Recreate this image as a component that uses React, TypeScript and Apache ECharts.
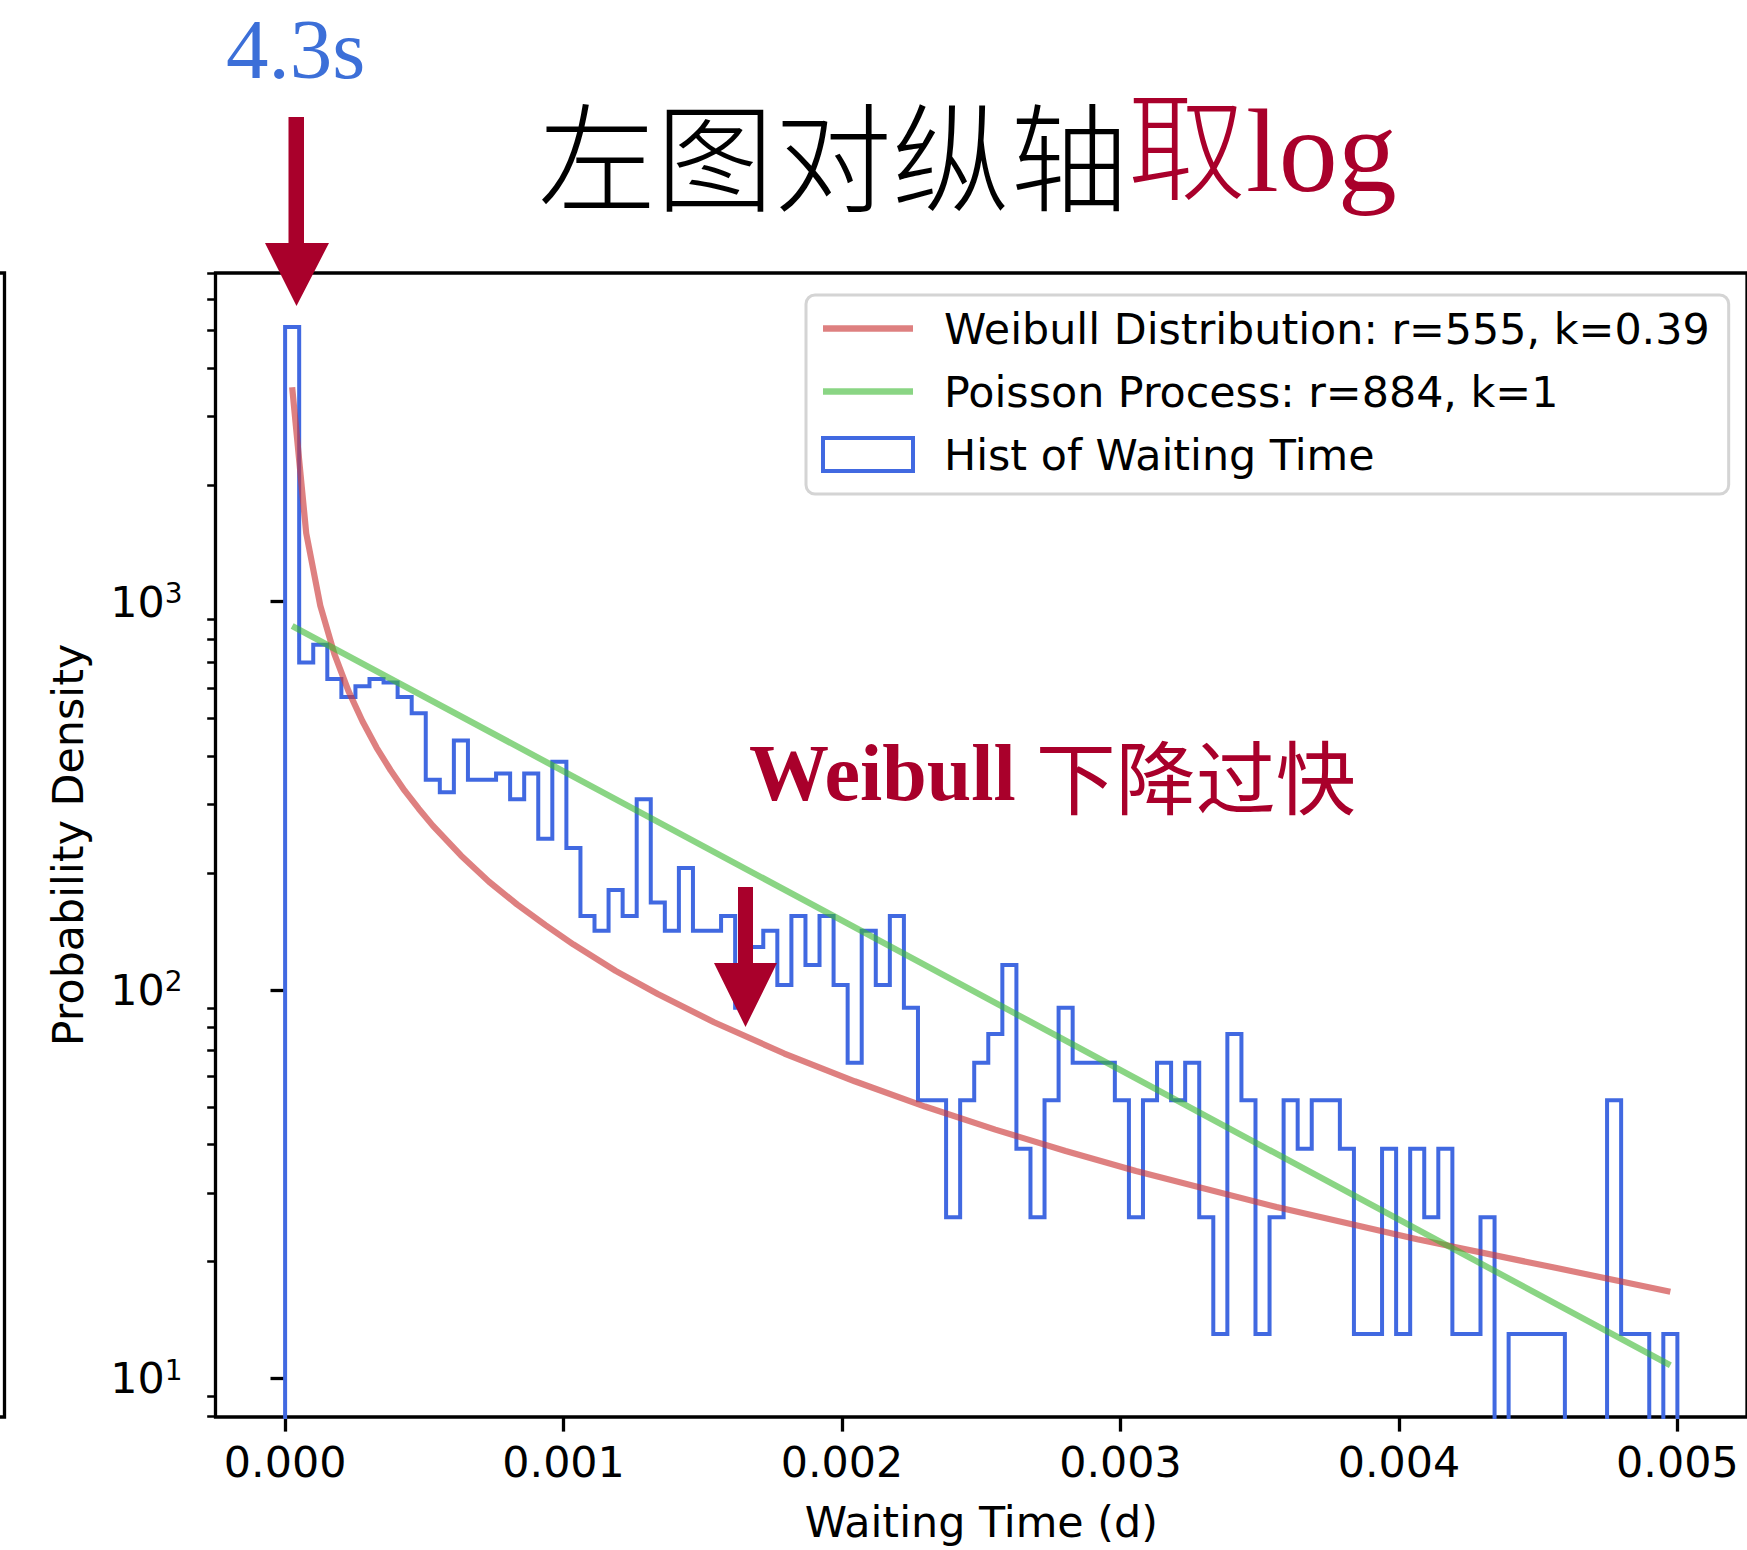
import React, { useEffect, useRef } from "react";
import * as echarts from "echarts";

// ---------- data ----------
const histName = "Hist of Waiting Time";
const weibullName = "Weibull Distribution: r=555, k=0.39";
const poissonName = "Poisson Process: r=884, k=1";

const histRange = [0, 0.005];
const histBinCount = 99;
// density per bin (0 = empty bin)
const histDensity = [
  5096, 697, 774, 632, 568, 606, 632, 619, 568, 516,
  348, 323, 439, 348, 348, 361, 310, 361, 245, 387,
  232, 155, 142, 181, 155, 310, 168, 142, 206, 142,
  142, 155, 90, 129, 142, 103, 155, 116, 155, 103,
  65, 142, 103, 155, 90, 52, 52, 26, 52, 65,
  77, 116, 39, 26, 52, 90, 65, 65, 65, 52,
  26, 52, 65, 52, 65, 26, 13, 77, 52, 13,
  26, 52, 39, 52, 52, 39, 13, 13, 39, 13,
  39, 26, 39, 13, 13, 26, 0, 13, 13, 13,
  13, 0, 0, 0, 52, 13, 13, 0, 13,
];

const weibullX = [
  0.0000253, 0.0000758, 0.0001263, 0.0001768, 0.0002273, 0.0002778, 0.0003283,
  0.0003788, 0.0004293, 0.0004798, 0.0005303, 0.0006313, 0.0007323, 0.0008333,
  0.0009343, 0.0010354, 0.0011869, 0.0013384, 0.0015404, 0.0017929, 0.0020455,
  0.0022980, 0.0025505, 0.0028030, 0.0030556, 0.0035606, 0.0040657, 0.0045707,
  0.0049747,
];
const weibullY = [
  3566, 1500, 977, 734, 589, 492, 421,
  368, 326, 293, 265, 222, 190, 166,
  147, 131, 112, 97.6, 82.6, 68.6, 58.2,
  50.1, 43.7, 38.5, 34.2, 27.6, 22.8, 19.2,
  16.7,
];

const poissonX = [0.0000253, 0.002, 0.0049747];
const poissonY = [866, 151, 10.8];

const xTickValues = [0, 0.001, 0.002, 0.003, 0.004, 0.005];
const yMajorTicks = [10, 100, 1000];
const yMinorTicks = [
  8, 9, 20, 30, 40, 50, 60, 70, 80, 90,
  200, 300, 400, 500, 600, 700, 800, 900,
  2000, 3000, 4000, 5000, 6000, 7000,
];
const xLimits = [-0.00025, 0.00525];
const yLimits = [7.95, 7020];

// ---------- styling ----------
const FONT = "DejaVu Sans";
const FS = 42.8;
const SERIF = "Liberation Serif";
const CJK = "Noto Sans CJK SC";
const CRIMSON = "#A9002B";
const HIST_BLUE = "#4169E1";
const RED_LINE = "rgba(205,60,60,0.65)";
const GREEN_LINE = "rgba(60,185,50,0.6)";
const LINE_ICON = "path://M0,0L90,0L90,6.5L0,6.5Z";

export default function App() {
  const ref = useRef<HTMLDivElement>(null);

  useEffect(() => {
    if (!ref.current) return;
    const chart = echarts.init(ref.current, undefined, { renderer: "svg" });

    const binWidth = (histRange[1] - histRange[0]) / histBinCount;
    const floor = 1; // below the axis minimum: outline runs down to the frame
    const stepPoints: number[][] = [[histRange[0], floor]];
    histDensity.forEach((d, i) => {
      const y = d > 0 ? d : floor;
      stepPoints.push([histRange[0] + i * binWidth, y]);
      stepPoints.push([histRange[0] + (i + 1) * binWidth, y]);
    });
    stepPoints.push([histRange[1], floor]);

    const weibullData = weibullX.map((x, i) => [x, weibullY[i]]);
    const poissonData = poissonX.map((x, i) => [x, poissonY[i]]);

    const option: any = {
      animation: false,
      backgroundColor: "#ffffff",
      title: {
        text: "{a|左图对纵轴}{b|取log}",
        left: 538,
        top: 92,
        padding: 0,
        textStyle: {
          rich: {
            a: { fontSize: 118, fontFamily: `"${CJK}"`, color: "#000", fontWeight: 300 },
            b: { fontSize: 118, fontFamily: `"${SERIF}", "${CJK}"`, color: CRIMSON, fontWeight: 300 },
          },
        },
      },
      legend: {
        orient: "vertical",
        left: 806,
        top: 295,
        itemWidth: 90,
        itemHeight: 33,
        itemGap: 20,
        padding: [12, 19, 18, 15],
        backgroundColor: "rgba(255,255,255,0.8)",
        borderColor: "#d4d4d4",
        borderWidth: 3,
        borderRadius: 9,
        selectedMode: false,
        textStyle: { fontSize: FS, fontFamily: FONT, color: "#000", padding: [0, 0, 0, 26] },
        data: [
          { name: weibullName, icon: LINE_ICON, itemStyle: { color: RED_LINE, borderWidth: 0 } },
          { name: poissonName, icon: LINE_ICON, itemStyle: { color: GREEN_LINE, borderWidth: 0 } },
          {
            name: histName,
            icon: "rect",
            itemStyle: { color: "#ffffff", borderColor: HIST_BLUE, borderWidth: 4 },
          },
        ],
      },
      grid: {
        left: 215.5,
        top: 273,
        right: -2,
        bottom: 133,
        show: true,
        borderColor: "#000",
        borderWidth: 3.3,
        backgroundColor: "transparent",
      },
      xAxis: {
        type: "value",
        min: xLimits[0],
        max: xLimits[1],
        name: "Waiting Time (d)",
        nameLocation: "middle",
        nameGap: 83,
        nameTextStyle: { fontSize: FS, fontFamily: FONT, color: "#000" },
        axisLine: { show: false },
        axisTick: {
          show: true,
          length: 14.6,
          customValues: xTickValues,
          lineStyle: { color: "#000", width: 3.3 },
        },
        axisLabel: {
          show: true,
          customValues: xTickValues,
          margin: 23,
          fontSize: FS,
          fontFamily: FONT,
          color: "#000",
          formatter: (v: number) => v.toFixed(3),
        },
        splitLine: { show: false },
      },
      yAxis: [
        {
          type: "log",
          logBase: 10,
          position: "left",
          min: yLimits[0],
          max: yLimits[1],
          name: "Probability Density",
          nameLocation: "middle",
          nameGap: 126,
          nameTextStyle: { fontSize: FS, fontFamily: FONT, color: "#000" },
          axisLine: { show: false },
          axisTick: {
            show: true,
            length: 14.6,
            customValues: yMajorTicks,
            lineStyle: { color: "#000", width: 3.3 },
          },
          axisLabel: {
            show: true,
            customValues: yMajorTicks,
            margin: 33,
            formatter: (v: number) => `{b|10}{s|${Math.round(Math.log10(v))}}`,
            rich: {
              b: { fontSize: FS, fontFamily: FONT, color: "#000", lineHeight: 44, verticalAlign: "middle" },
              s: { fontSize: 28, fontFamily: FONT, color: "#000", lineHeight: 24, verticalAlign: "top" },
            },
          },
          splitLine: { show: false },
        },
        {
          type: "log",
          logBase: 10,
          position: "left",
          min: yLimits[0],
          max: yLimits[1],
          axisLine: { show: false },
          axisLabel: { show: false },
          splitLine: { show: false },
          axisTick: {
            show: true,
            length: 8.3,
            customValues: yMinorTicks,
            lineStyle: { color: "#000", width: 2.5 },
          },
        },
      ],
      series: [
        {
          name: weibullName,
          type: "line",
          data: weibullData,
          yAxisIndex: 0,
          symbol: "none",
          z: 4,
          lineStyle: { color: RED_LINE, width: 6.2 },
          itemStyle: { color: RED_LINE },
        },
        {
          name: poissonName,
          type: "line",
          data: poissonData,
          yAxisIndex: 0,
          symbol: "none",
          z: 4,
          lineStyle: { color: GREEN_LINE, width: 6.2 },
          itemStyle: { color: GREEN_LINE },
        },
        {
          name: histName,
          type: "line",
          data: stepPoints,
          yAxisIndex: 0,
          symbol: "none",
          z: 3,
          clip: true,
          lineStyle: { color: HIST_BLUE, width: 4, join: "miter", cap: "butt" },
          itemStyle: { color: HIST_BLUE },
        },
      ],
      graphic: [
        {
          type: "polyline",
          shape: { points: [[0, 273], [4.5, 273], [4.5, 1417], [0, 1417]] },
          style: { stroke: "#000", lineWidth: 3.3, fill: null },
          silent: true,
        },
        {
          type: "text",
          x: 226,
          y: 49,
          style: {
            text: "4.3s",
            fontSize: 85,
            fontFamily: SERIF,
            fill: "#3C6FD8",
            verticalAlign: "middle",
            align: "left",
          },
        },
        {
          type: "polygon",
          shape: {
            points: [[288.5, 117], [304, 117], [304, 243], [329, 243], [296.5, 306], [265, 243], [288.5, 243]],
          },
          style: { fill: CRIMSON },
          z: 10,
        },
        {
          type: "polygon",
          shape: {
            points: [[738, 887], [753, 887], [753, 963], [777, 963], [745.5, 1027], [714, 963], [738, 963]],
          },
          style: { fill: CRIMSON },
          z: 10,
        },
        {
          type: "text",
          x: 749,
          y: 773,
          style: {
            text: "{w|Weibull }{c|下降过快}",
            verticalAlign: "middle",
            align: "left",
            rich: {
              w: { fontSize: 80, fontFamily: SERIF, fontWeight: "bold", fill: CRIMSON, color: CRIMSON },
              c: { fontSize: 80, fontFamily: CJK, fill: CRIMSON, color: CRIMSON },
            },
          },
          z: 10,
        },
      ],
    };

    chart.setOption(option);
    return () => chart.dispose();
  }, []);

  return (
    <div
      ref={ref}
      style={{ position: "fixed", left: 0, top: 0, width: 1747, height: 1550, background: "#fff" }}
    />
  );
}
